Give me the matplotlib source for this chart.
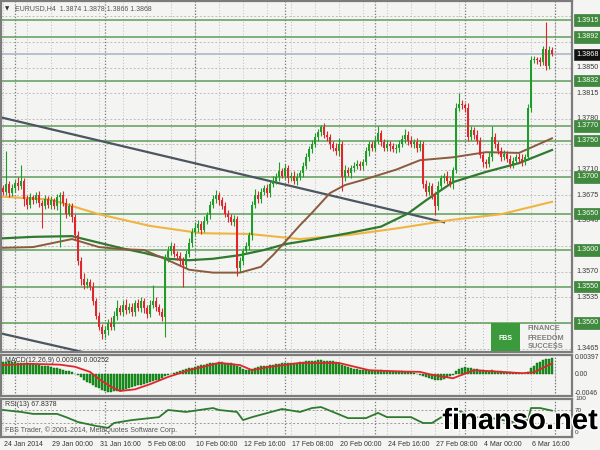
import matplotlib.pyplot as plt
import matplotlib.patheffects as pe
from matplotlib.patches import Rectangle
import numpy as np

# ---- price data (H4 bars, 24 Jan 08:00 .. 7 Mar 20:00) ----
closes = [
    1.3680, 1.3690, 1.3678, 1.3685, 1.3692, 1.3688, 1.3695, 1.3670, 1.3662, 1.3672,
    1.3668, 1.3675, 1.3665, 1.3660, 1.3670, 1.3662, 1.3668, 1.3660, 1.3672, 1.3676,
    1.3665, 1.3650, 1.3660, 1.3645, 1.3620, 1.3585, 1.3560, 1.3552, 1.3556, 1.3550,
    1.3530, 1.3510, 1.3495, 1.3485, 1.3490, 1.3500, 1.3495, 1.3510, 1.3520, 1.3515,
    1.3525, 1.3518, 1.3522, 1.3515, 1.3528, 1.3520, 1.3530, 1.3520, 1.3512, 1.3525,
    1.3530, 1.3522, 1.3515, 1.3508, 1.3590, 1.3598, 1.3605, 1.3595, 1.3592, 1.3585,
    1.3580, 1.3595, 1.3610, 1.3625, 1.3630, 1.3635, 1.3628, 1.3640, 1.3648, 1.3662,
    1.3670, 1.3675, 1.3668, 1.3660, 1.3650, 1.3645, 1.3638, 1.3642, 1.3575, 1.3585,
    1.3598, 1.3605, 1.3620, 1.3662, 1.3675, 1.3670, 1.3680, 1.3685, 1.3678, 1.3690,
    1.3695, 1.3700, 1.3708, 1.3702, 1.3712, 1.3698, 1.3702, 1.3695, 1.3700, 1.3705,
    1.3715, 1.3728, 1.3738, 1.3745, 1.3755, 1.3762, 1.3768, 1.3758, 1.3755, 1.3745,
    1.3740, 1.3735, 1.3745, 1.3700, 1.3710, 1.3705, 1.3712, 1.3715, 1.3718, 1.3715,
    1.3720, 1.3735, 1.3745, 1.3740, 1.3750, 1.3760, 1.3748, 1.3740, 1.3745, 1.3742,
    1.3738, 1.3740, 1.3745, 1.3752, 1.3758, 1.3750, 1.3745, 1.3748, 1.3740, 1.3745,
    1.3690, 1.3680, 1.3688, 1.3675, 1.3660, 1.3688, 1.3698, 1.3702, 1.3695, 1.3690,
    1.3710, 1.3795, 1.3800, 1.3798, 1.3795, 1.3755, 1.3765, 1.3758, 1.3750, 1.3730,
    1.3720, 1.3718, 1.3728, 1.3755, 1.3745, 1.3735, 1.3728, 1.3732, 1.3725, 1.3718,
    1.3722, 1.3728, 1.3725, 1.3720, 1.3728, 1.3795, 1.3860, 1.3862, 1.3860, 1.3858,
    1.3875, 1.3852, 1.3874, 1.3868,
]
first_open = 1.3685
# upper / lower wicks in pips
wick_up = [
    4, 45, 5, 6, 4, 8, 22, 4, 5, 6,
    4, 5, 6, 3, 5, 4, 6, 3, 5, 4,
    5, 6, 4, 5, 4, 6, 5, 8, 5, 4,
    6, 4, 5, 4, 6, 5, 8, 6, 12, 5,
    6, 8, 5, 6, 4, 5, 6, 4, 5, 6,
    22, 5, 4, 6, 5, 8, 6, 5, 4, 5,
    6, 5, 6, 5, 8, 6, 5, 6, 4, 5,
    6, 7, 5, 4, 6, 5, 4, 6, 5, 6,
    5, 6, 4, 5, 8, 6, 5, 4, 6, 5,
    6, 5, 12, 5, 6, 4, 5, 6, 5, 4,
    6, 5, 4, 6, 5, 4, 3, 6, 5, 4,
    5, 6, 8, 5, 6, 4, 5, 6, 5, 4,
    5, 6, 5, 4, 6, 10, 5, 4, 6, 5,
    4, 5, 6, 5, 8, 5, 6, 4, 5, 6,
    5, 6, 5, 4, 5, 6, 5, 4, 6, 5,
    4, 6, 15, 5, 4, 6, 5, 4, 6, 5,
    4, 5, 6, 15, 5, 4, 6, 5, 4, 5,
    6, 4, 5, 6, 4, 5, 6, 4, 3, 4,
    5, 37, 6, 4,
]
wick_dn = [
    5, 4, 6, 4, 5, 6, 4, 10, 6, 4,
    5, 4, 6, 30, 4, 5, 6, 4, 5, 68,
    5, 6, 4, 6, 5, 6, 8, 6, 4, 5,
    6, 5, 4, 7, 5, 6, 4, 5, 6, 4,
    5, 6, 4, 5, 6, 4, 5, 6, 5, 4,
    5, 6, 4, 5, 27, 6, 5, 4, 6, 5,
    31, 4, 5, 6, 4, 5, 6, 4, 5, 6,
    4, 5, 6, 4, 5, 6, 4, 5, 10, 5,
    6, 4, 5, 6, 4, 5, 6, 4, 5, 6,
    4, 5, 6, 4, 5, 6, 4, 5, 6, 4,
    5, 4, 6, 5, 4, 5, 6, 4, 5, 6,
    4, 5, 6, 19, 5, 4, 6, 5, 4, 6,
    5, 4, 6, 5, 4, 5, 6, 4, 5, 6,
    4, 5, 6, 4, 5, 6, 4, 5, 6, 4,
    5, 6, 4, 5, 12, 5, 4, 6, 5, 4,
    6, 5, 4, 5, 6, 5, 4, 6, 5, 4,
    6, 5, 4, 6, 5, 4, 6, 5, 4, 6,
    5, 4, 6, 5, 4, 5, 6, 4, 5, 6,
    4, 5, 4, 2,
]

# moving averages (bar index, price)
ma_slow_x = [0, 16, 32, 49, 66, 82, 99, 116, 132, 149, 166, 183]
ma_slow_y = [1.3673, 1.3669, 1.3649, 1.3633, 1.3623, 1.3622, 1.3615, 1.3621, 1.3630, 1.3641, 1.3649, 1.3666]
ma_mid_x = [0, 10, 23, 32, 40, 47, 55, 62, 70, 79, 87, 94, 103, 115, 126, 135, 141, 150, 161, 172, 183]
ma_mid_y = [1.3616, 1.3618, 1.3619, 1.3610, 1.3602, 1.3596, 1.3588, 1.3586, 1.3588, 1.3593, 1.3600,
            1.3608, 1.3614, 1.3623, 1.3632, 1.3650, 1.3668, 1.3693, 1.3707, 1.3719, 1.3737]
ma_fast_x = [0, 10, 23, 32, 40, 47, 55, 62, 70, 79, 86, 90, 94, 99, 103, 109, 114, 120, 131, 139,
             150, 161, 172, 183]
ma_fast_y = [1.3603, 1.3604, 1.3615, 1.3604, 1.3601, 1.3600, 1.3586, 1.3573, 1.3569, 1.3569,
             1.3577, 1.3593, 1.3611, 1.3634, 1.3651, 1.3678, 1.3689, 1.3696, 1.3710, 1.3723,
             1.3727, 1.3734, 1.3733, 1.3753]

# trend lines (bar index, price)
trend1_x = [-1, 147]
trend1_y = [1.3782, 1.3638]
trend2_x = [-1, 30]
trend2_y = [1.3486, 1.3457]

levels = [1.3915, 1.3892, 1.3832, 1.3770, 1.3750, 1.3700, 1.3650, 1.3600, 1.3550, 1.3500]
last_price = 1.3868
price_ticks = [1.3920, 1.3885, 1.3850, 1.3815, 1.3780, 1.3745, 1.3710, 1.3675,
               1.3640, 1.3605, 1.3570, 1.3535, 1.3500, 1.3465]

# MACD main (x1e-4, one per bar) and signal line
macd = [28, 29, 30, 29, 28, 27, 27, 26, 25, 24,
        23, 22, 21, 20, 19, 18, 17, 15, 14, 12, 10, 8, 6,
        4, 1, -3, -8, -13, -18, -22, -26, -30, -34, -38, -41,
        -42, -42, -41,
        -40, -39, -37, -35, -33, -31, -29, -27, -25, -23, -21, -19, -17, -15, -13, -9, -5, -2,
        1, 3, 5, 7, 9, 11, 13, 15, 17, 19, 21, 22, 24, 25, 26, 27, 28,
        28, 27, 26, 25, 24, 20, 16,
        12, 10, 9, 11,
        14, 16, 18, 19, 20, 21, 22, 23, 24, 25, 25, 26, 26, 26, 27,
        28, 29, 30, 31, 31, 31, 32, 32, 31, 31, 30, 30, 29,
        26, 22, 19, 16, 14, 12, 11, 10, 10, 9,
        8, 8, 7, 8, 9, 8, 7, 7, 6, 6, 6,
        6, 5, 5, 4, 2, 1, -2, -5, -8, -10,
        -11, -13, -14, -13, -11,
        -8, -5, -2,
        6, 12, 15, 16, 14,
        13, 12, 11, 10, 9, 8, 8, 9, 8, 7, 6, 5, 4, 4, 3, 3, 2,
        1, 0, 4,
        14, 20, 25, 29, 32, 35, 36, 37]
signal_x = [0, 9, 19, 24, 29, 32, 36, 39, 44, 49, 55, 62, 72, 79, 83, 88, 99, 112,
            122, 132, 139, 143, 150, 157, 166, 173, 177, 183]
signal_y = [21, 24, 22, 17, 5, -12, -30, -40, -36, -24, -7, 9, 26, 21, 9, 16, 26, 26,
            9, 6, 5, -2, -10, 9, 5, 2, 4, 25]

# RSI(13)
rsi_x = [0, 6, 10, 18, 21, 25, 31, 35, 37, 43, 52, 55, 61, 70, 72, 78, 80, 83, 93, 99,
         103, 106, 110, 115, 121, 125, 128, 136, 140, 143, 150, 152, 157, 163, 170, 175,
         176, 179, 183]
rsi_y = [70, 64, 58, 58, 48, 33, 21, 15, 30, 39, 48, 70, 64, 76, 70, 64, 39, 48, 73, 64,
         76, 79, 64, 45, 45, 61, 48, 48, 30, 30, 70, 67, 48, 45, 33, 39,
         76, 76, 68]

date_bars = [0, 16, 32, 48, 64, 80, 96, 112, 128, 144, 160, 176]
date_labels = ["24 Jan 2014", "29 Jan 00:00", "31 Jan 16:00", "5 Feb 08:00", "10 Feb 00:00",
               "12 Feb 16:00", "17 Feb 08:00", "20 Feb 00:00", "24 Feb 16:00", "27 Feb 08:00",
               "4 Mar 00:00", "6 Mar 16:00"]
week_bars = [4, 34, 64, 94, 124, 154, 184]

W, H = 600, 450
BG = '#f4f4f2'
BULL = '#1e9e28'
BEAR = '#e0262c'
FONT = 'Liberation Sans'
X_LEFT, X_RIGHT = -0.67, 189.67
LAB_X = 1.0 + 3 / 571

plt.rcParams['font.family'] = [FONT, 'DejaVu Sans']
fig = plt.figure(figsize=(6, 4.5), dpi=100)
fig.patch.set_facecolor(BG)


def panel(x0, y0, x1, y1, ylim):
    ax = fig.add_axes([x0 / W, 1 - y1 / H, (x1 - x0) / W, (y1 - y0) / H])
    ax.set_facecolor(BG)
    for s in ax.spines.values():
        s.set_color('#7c7c7c')
        s.set_linewidth(1.6)
    ax.set_xticks([])
    ax.set_yticks([])
    ax.set_xlim(X_LEFT, X_RIGHT)
    ax.set_ylim(*ylim)
    for i in range(0, 185, 8):
        ax.axvline(i, color='#bdbdbd', ls=(0, (1, 2)), lw=0.7, zorder=0)
    for i in week_bars:
        ax.axvline(i, color='#7a7a7a', ls=(0, (1, 1.5)), lw=0.9, zorder=0)
    return ax


ax = panel(1, 1, 572, 352, (1.35 - 29 / 7300, 1.35 + 322 / 7300))
ax_m = panel(1, 355, 572, 396, (-0.00517, 0.00447))
ax_r = panel(1, 399, 572, 437, (-13.1, 103.8))

# grid lines + right scale (labels hidden under level boxes are left out)
for p in price_ticks:
    ax.axhline(p, color='#bdbdbd', ls=(0, (2, 2)), lw=0.7, zorder=0)
    if min(abs(p - lv) for lv in levels) < 0.00085:
        continue
    ax.text(LAB_X + 1 / 571, p, "%.4f" % p, transform=ax.get_yaxis_transform(),
            va='center', ha='left', fontsize=5.2, color='#3a3a3a', clip_on=False)

for lv in levels:
    ax.axhline(lv, color='#5f9f5a', lw=1.1, zorder=1)
    ax.text(LAB_X + 1 / 571, lv, "%.4f" % lv, transform=ax.get_yaxis_transform(),
            va='center', ha='left', fontsize=5.2, color='white', clip_on=False, zorder=5,
            bbox=dict(boxstyle='square,pad=0.3', fc='#3f8a3c', ec='#2e6e2c', lw=0.4))
ax.axhline(last_price, color='#a8b2c6', lw=1.1, zorder=1)
ax.text(LAB_X + 1 / 571, last_price, "%.4f" % last_price, transform=ax.get_yaxis_transform(),
        va='center', ha='left', fontsize=5.2, color='white', clip_on=False, zorder=5,
        bbox=dict(boxstyle='square,pad=0.3', fc='#111111', ec='#111111', lw=0.4))

# trend lines and MAs
ax.plot(trend1_x, trend1_y, color='#4b5660', lw=1.6, zorder=2)
ax.plot(trend2_x, trend2_y, color='#4b5660', lw=1.6, zorder=2)
ax.plot(ma_slow_x, ma_slow_y, color='#efb441', lw=1.5, zorder=3)
ax.plot(ma_mid_x, ma_mid_y, color='#2f7a2f', lw=1.6, zorder=3)
ax.plot(ma_fast_x, ma_fast_y, color='#8c5a3e', lw=1.4, zorder=3)

# candles
c = np.array(closes)
o = np.array([first_open] + closes[:-1])
hi = np.maximum(o, c) + np.array(wick_up) * 1e-4
lo = np.minimum(o, c) - np.array(wick_dn) * 1e-4
xs = np.arange(len(c))
col = [BULL if cc >= oo else BEAR for oo, cc in zip(o, c)]
ax.vlines(xs, lo, hi, colors=col, lw=0.8, zorder=4)
ax.bar(xs, np.maximum(np.abs(c - o), 0.00005), bottom=np.minimum(o, c), width=0.7,
       color=col, zorder=4)

ax.text(4 / 571, 1 - 8 / 351, "\u25bc", transform=ax.transAxes, fontsize=4,
        color='#333333', va='center', ha='left', family='DejaVu Sans')
ax.text(14 / 571, 1 - 8 / 351, "EURUSD,H4  1.3874 1.3878 1.3866 1.3868",
        transform=ax.transAxes, fontsize=5, color='#555555', va='center', ha='left')

# FBS logo
ax.add_patch(Rectangle((490 / 571, 1 - 352 / 351 + 0.005), 29 / 571, 28 / 351,
                       transform=ax.transAxes, fc='#3b9a3b', ec='none', zorder=6))
ax.text(504.5 / 571, 1 - 338 / 351, "FBS", transform=ax.transAxes, fontsize=5,
        color='white', ha='center', va='center', weight='bold', zorder=7)
for k, word in enumerate(["FINANCE", "FREEDOM", "SUCCESS"]):
    ax.text(527 / 571, 1 - (328 + 9 * k) / 351, word, transform=ax.transAxes,
            fontsize=5.3, color='#808080', ha='left', va='center', weight='bold', zorder=7)

# MACD
ax_m.bar(np.arange(len(macd)), np.array(macd) * 1e-4, width=0.75, color='#139a1a',
         edgecolor='#0b5c10', lw=0.3, zorder=3)
ax_m.plot(signal_x, np.array(signal_y) * 1e-4, color='#e0262c', lw=1.3, zorder=4)
ax_m.text(4 / 571, 0.86, "MACD(12,26,9) 0.00368 0.00252", transform=ax_m.transAxes,
          fontsize=5, color='#333333', va='center', ha='left', zorder=5)
for v, s in [(0.00397, "0.00397"), (0.0, "0.00"), (-0.0046, "-0.0046")]:
    ax_m.text(LAB_X, v, s, transform=ax_m.get_yaxis_transform(), va='center',
              ha='left', fontsize=4.9, color='#3a3a3a', clip_on=False)

# RSI
for lv in (70, 30):
    ax_r.axhline(lv, color='#9a9a9a', ls=(0, (2, 2)), lw=0.7, zorder=1)
ax_r.plot(rsi_x, rsi_y, color='#2f7a2f', lw=1.3, zorder=3)
ax_r.text(4 / 571, 0.85, "RSI(13) 67.8378", transform=ax_r.transAxes, fontsize=5,
          color='#333333', va='center', ha='left')
ax_r.text(4 / 571, 0.17, "FBS Trader, \u00a9 2001-2014, MetaQuotes Software Corp.",
          transform=ax_r.transAxes, fontsize=5, color='#555555', va='center', ha='left')
for v, s, dy in [(100, "100", 1.5), (70, "70", -1.0), (0, "0", 0)]:
    ax_r.text(LAB_X, v + dy * 3, s, transform=ax_r.get_yaxis_transform(), va='center',
              ha='left', fontsize=4.6, color='#3a3a3a', clip_on=False)

# date axis
for b, s in zip(date_bars, date_labels):
    ax_r.text(b + 0.3, -0.1, s, transform=ax_r.get_xaxis_transform(), va='top', ha='left',
              fontsize=5, color='#333333', clip_on=False)

# watermark
fig.text(520 / W, 1 - 421 / H, "finanso.net", ha='center', va='center', fontsize=21,
         weight='bold', color='black', zorder=10,
         path_effects=[pe.withStroke(linewidth=2, foreground='white')])

fig.savefig('out.png', dpi=100, facecolor=BG)
